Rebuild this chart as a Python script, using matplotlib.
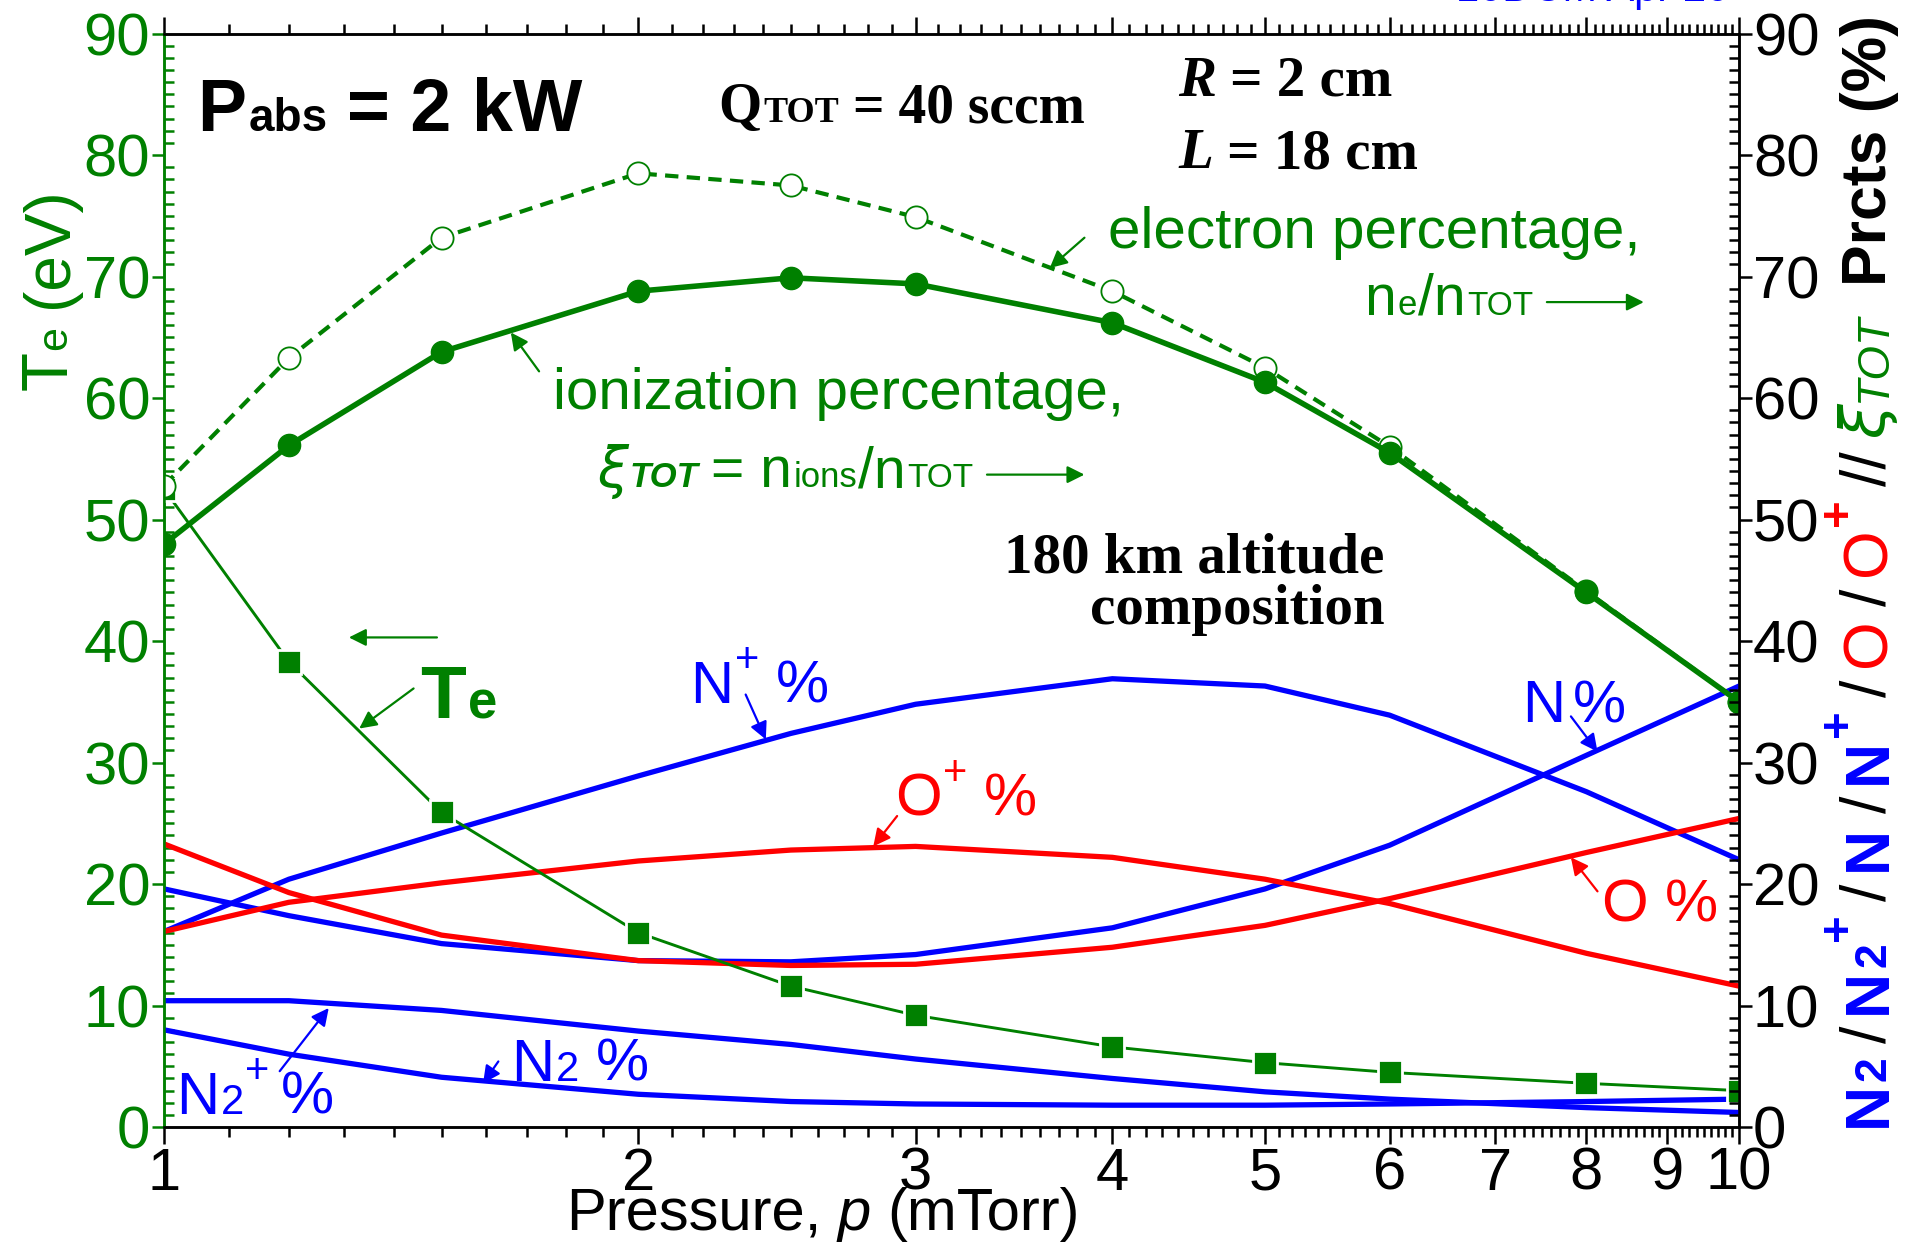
import matplotlib
matplotlib.use("Agg")
import matplotlib.pyplot as plt
from matplotlib.transforms import offset_copy
from matplotlib.ticker import FixedLocator, FixedFormatter, NullFormatter

GREEN = "#008000"
BLUE = "#0000FF"
RED = "#FF0000"
SANS = "Liberation Sans"
SERIF = "Liberation Serif"

# ---- data ----
pressure = [1, 1.2, 1.5, 2, 2.5, 3, 4, 5, 6, 8, 10]          # mTorr
te_ev = [52.5, 38.3, 25.9, 16.0, 11.6, 9.2, 6.6, 5.3, 4.5, 3.6, 3.0]
ioniz_pct = [48.0, 56.1, 63.8, 68.8, 69.9, 69.4, 66.2, 61.3, 55.5, 44.0, 35.0]
electron_pct = [52.8, 63.3, 73.2, 78.5, 77.5, 74.9, 68.8, 62.5, 56.0, 44.1, 35.0]

n_plus = [16.1, 20.4, 24.2, 28.9, 32.4, 34.8, 36.9, 36.3, 33.9, 27.6, 22.0]
n_atom = [19.6, 17.4, 15.1, 13.7, 13.6, 14.2, 16.4, 19.6, 23.2, 30.6, 36.3]
o_plus = [16.1, 18.5, 20.1, 21.9, 22.8, 23.1, 22.2, 20.4, 18.4, 14.3, 11.6]
o_atom = [23.3, 19.3, 15.8, 13.7, 13.3, 13.4, 14.8, 16.6, 18.8, 22.6, 25.4]
n2_plus = [10.4, 10.4, 9.6, 7.9, 6.8, 5.6, 4.0, 2.9, 2.3, 1.6, 1.2]
n2_mol = [8.0, 6.0, 4.1, 2.7, 2.1, 1.9, 1.8, 1.8, 1.9, 2.1, 2.3]

x_major = [1, 2, 3, 4, 5, 6, 7, 8, 9, 10]
y_major = list(range(0, 91, 10))

fig = plt.figure(figsize=(19.09, 12.44), dpi=100)
ax = fig.add_axes([0.086, 0.094, 0.825, 0.879])
ax2 = ax.twinx()

# composition curves
for vals, c in [(n_plus, BLUE), (n_atom, BLUE), (n2_plus, BLUE), (n2_mol, BLUE),
                (o_plus, RED), (o_atom, RED)]:
    ax.plot(pressure, vals, color=c, lw=3.8, zorder=3)

# Te, ionization, electron percentage
ax.plot(pressure, te_ev, color=GREEN, lw=2.1, marker="s", ms=17,
        mfc=GREEN, mec="white", mew=2.0, zorder=4)
ax.plot(pressure, electron_pct, color=GREEN, lw=3.0, dashes=(3.2, 2.0),
        marker="o", ms=16, mfc="white", mec=GREEN, mew=1.3, zorder=4)
ax.plot(pressure, ioniz_pct, color=GREEN, lw=4.0, marker="o", ms=16,
        mfc=GREEN, mec=GREEN, zorder=5)

ax.set_xscale("log")
ax.set_xlim(1, 10)
ax.set_ylim(0, 90)
ax2.set_ylim(0, 90)

ax.xaxis.set_major_locator(FixedLocator(x_major))
ax.xaxis.set_major_formatter(FixedFormatter([str(v) for v in x_major]))
minors = [v / 10 for v in range(11, 100) if v % 10 != 0]
ax.xaxis.set_minor_locator(FixedLocator(minors))
ax.xaxis.set_minor_formatter(NullFormatter())
ax.tick_params(axis="x", which="both", direction="out", top=True, width=1.8,
               labelsize=43, pad=2, colors="black")
ax.tick_params(axis="x", which="major", length=12)
ax.tick_params(axis="x", which="minor", length=7)

ax.set_yticks(y_major)
ax.yaxis.set_minor_locator(FixedLocator([v for v in range(0, 91) if v % 10]))
ax.tick_params(axis="y", which="major", direction="out", length=9, width=1.8,
               labelsize=43, colors=GREEN, pad=1)
ax.tick_params(axis="y", which="minor", direction="in", length=7, width=1.8, colors=GREEN)
ax.tick_params(axis="y", right=False, which="both")

ax2.set_yticks(y_major)
ax2.yaxis.set_minor_locator(FixedLocator([v for v in range(0, 91) if v % 10]))
ax2.tick_params(axis="y", which="major", direction="out", length=9, width=1.8,
                labelsize=43, colors="black", pad=1)
ax2.tick_params(axis="y", which="minor", direction="in", length=7, width=1.8, colors="black")

for a in (ax, ax2):
    for sp in a.spines.values():
        sp.set_linewidth(1.8)
ax.spines["left"].set_color(GREEN)
ax2.spines["left"].set_color(GREEN)

for lab in ax.get_xticklabels() + ax.get_yticklabels() + ax2.get_yticklabels():
    lab.set_family(SANS)


def rich(x, y, parts, rotation=0):
    """draw consecutive text runs with different styles (axes coords)"""
    renderer = fig.canvas.get_renderer()
    tr = ax.transAxes
    for s, style in parts:
        kw = dict(style)
        gap = kw.pop("gap", 0)
        rise = kw.pop("rise", 0)
        if rotation == 90:
            tr = offset_copy(tr, fig=fig, y=gap, units="points")
            ttr = offset_copy(tr, fig=fig, x=-rise, units="points")
        else:
            tr = offset_copy(tr, fig=fig, x=gap, units="points")
            ttr = offset_copy(tr, fig=fig, y=rise, units="points")
        kw.setdefault("family", SANS)
        t = fig.text(x, y, s, transform=ttr, rotation=rotation,
                     rotation_mode="anchor", ha="left", va="baseline", **kw)
        ex = t.get_window_extent(renderer)
        if rotation == 90:
            tr = offset_copy(tr, fig=fig, y=ex.height, units="dots")
        else:
            tr = offset_copy(tr, fig=fig, x=ex.width, units="dots")


B = dict(weight="bold")
G = dict(color=GREEN)
BL = dict(color=BLUE)
RD = dict(color=RED)

rich(0.0209, 0.911, [("P", dict(size=53, **B)), ("abs", dict(size=33, gap=2, **B)),
                     ("= 2 kW", dict(size=53, gap=14, **B))])
rich(0.352, 0.919, [("Q", dict(size=40, family=SERIF, **B)),
                    ("TOT", dict(size=26, family=SERIF, gap=1, **B)),
                    ("= 40 sccm", dict(size=40, family=SERIF, gap=10, **B))])
rich(0.644, 0.943, [("R", dict(size=41, family=SERIF, style="italic", **B)),
                    ("= 2 cm", dict(size=41, family=SERIF, gap=10, **B))])
rich(0.644, 0.877, [("L", dict(size=41, family=SERIF, style="italic", **B)),
                    ("= 18 cm", dict(size=41, family=SERIF, gap=10, **B))])

rich(0.599, 0.804, [("electron percentage,", dict(size=42, **G))])
rich(0.762, 0.743, [("n", dict(size=41, **G)), ("e", dict(size=25, gap=1, **G)),
                    ("/n", dict(size=41, gap=1, **G)), ("TOT", dict(size=24, gap=1, **G))])
rich(0.247, 0.657, [("ionization percentage,", dict(size=42, **G))])
rich(0.275, 0.585, [("\u03be", dict(size=40, style="italic", family="DejaVu Sans", **G)),
                    ("TOT", dict(size=25, style="italic", weight="bold", gap=1, **G)),
                    ("= n", dict(size=41, gap=9, **G)), ("ions", dict(size=25, gap=1, **G)),
                    ("/n", dict(size=41, gap=1, **G)), ("TOT", dict(size=24, gap=1, **G))])

ax.text(0.775, 0.507, "180 km altitude", transform=ax.transAxes, ha="right",
        va="baseline", family=SERIF, weight="bold", size=41)
ax.text(0.775, 0.4605, "composition", transform=ax.transAxes, ha="right",
        va="baseline", family=SERIF, weight="bold", size=41)

rich(0.1624, 0.374, [("T", dict(size=54, **B, **G)), ("e", dict(size=38, gap=2, **B, **G))])

rich(0.334, 0.388, [("N", dict(size=43, **BL)), ("+", dict(size=30, rise=22, gap=1, **BL)),
                    ("%", dict(size=43, gap=12, **BL))])
rich(0.464, 0.285, [("O", dict(size=43, **RD)), ("+", dict(size=30, rise=22, gap=1, **RD)),
                    ("%", dict(size=43, gap=12, **RD))])
rich(0.862, 0.370, [("N", dict(size=43, **BL)), ("%", dict(size=43, gap=6, **BL))])
rich(0.9126, 0.188, [("O", dict(size=43, **RD)), ("%", dict(size=43, gap=12, **RD))])
rich(0.0077, 0.0122, [("N", dict(size=43, **BL)), ("2", dict(size=30, gap=1, **BL)),
                      ("+", dict(size=30, rise=22, gap=1, **BL)),
                      ("%", dict(size=43, gap=8, **BL))])
rich(0.2204, 0.0423, [("N", dict(size=43, **BL)), ("2", dict(size=30, gap=1, **BL)),
                      ("%", dict(size=43, gap=12, **BL))])

# arrows (tail -> head, data coords)
arrows = [
    ((3.84, 73.2), (3.65, 70.7)),
    ((1.73, 62.2), (1.66, 65.4)),
    ((7.55, 67.9), (8.70, 67.9)),
    ((3.33, 53.7), (3.84, 53.7)),
    ((1.49, 40.3), (1.31, 40.3)),
    ((1.44, 36.1), (1.33, 32.8)),
    ((2.34, 35.6), (2.41, 31.9)),
    ((2.92, 25.6), (2.82, 23.1)),
    ((7.82, 33.8), (8.13, 30.9)),
    ((8.13, 19.4), (7.82, 22.2)),
    ((1.184, 4.6), (1.272, 9.8)),
    ((1.63, 5.4), (1.594, 3.6)),
]
colors = [GREEN] * 6 + [BLUE, RED, BLUE, RED, BLUE, BLUE]
for (tail, head), c in zip(arrows, colors):
    ax.annotate("", xy=head, xytext=tail,
                arrowprops=dict(arrowstyle="-|>", color=c, lw=1.6,
                                mutation_scale=26, shrinkA=0, shrinkB=0))

# axis labels
rich(-0.062, 0.674, [("T", dict(size=46, **G)), ("e", dict(size=31, gap=1, **G)),
                     ("(eV)", dict(size=46, gap=13, **G))], rotation=90)
rich(0.255, -0.094, [("Pressure,", dict(size=43)), ("p", dict(size=43, style="italic", gap=12)),
                     ("(mTorr)", dict(size=43, gap=12))])

sl = dict(size=45, gap=9, color="black")
rich(1.093, 0.0, [("N", dict(size=45, **B, **BL)), ("2", dict(size=32, gap=1, **B, **BL)),
                  ("/", sl),
                  ("N", dict(size=45, gap=9, **B, **BL)), ("2", dict(size=32, gap=1, **B, **BL)),
                  ("+", dict(size=34, rise=25, gap=1, **B, **BL)),
                  ("/", sl),
                  ("N", dict(size=45, gap=9, **B, **BL)),
                  ("/", sl),
                  ("N", dict(size=45, gap=9, **B, **BL)),
                  ("+", dict(size=34, rise=25, gap=1, **B, **BL)),
                  ("/", sl),
                  ("O", dict(size=45, gap=9, **RD)),
                  ("/", sl),
                  ("O", dict(size=45, gap=9, **RD)),
                  ("+", dict(size=34, rise=25, gap=1, **B, **RD)),
                  ("//", sl),
                  ("\u03be", dict(size=45, gap=9, style="italic", family="DejaVu Sans", **G)),
                  ("TOT", dict(size=32, gap=1, style="italic", **G)),
                  ("Prcts (%)", dict(size=45, gap=20, **B, color="black"))], rotation=90)

fig.text(0.906, 0.9995, "10DCM Apr 20", ha="right", va="baseline", color=BLUE,
         family=SANS, size=30)

fig.savefig("out.png", dpi=100)
